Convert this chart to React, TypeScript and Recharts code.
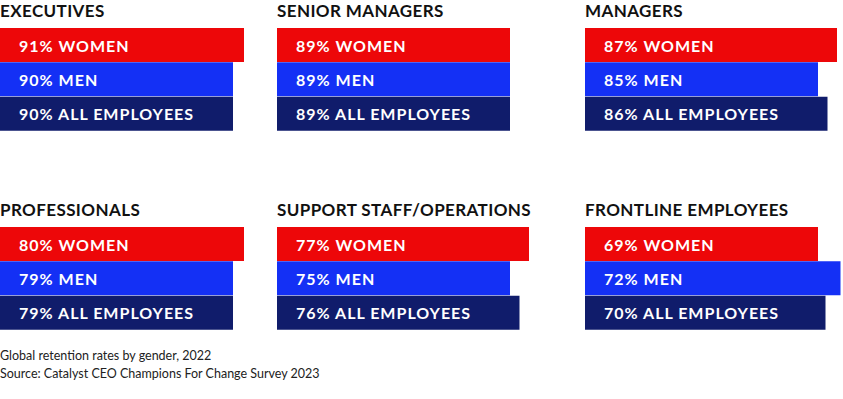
import { BarChart, Bar, XAxis, YAxis, Cell, LabelList } from "recharts";

const PANELS = [
  "EXECUTIVES",
  "SENIOR MANAGERS",
  "MANAGERS",
  "PROFESSIONALS",
  "SUPPORT STAFF/OPERATIONS",
  "FRONTLINE EMPLOYEES",
];
const GROUPS = ["WOMEN", "MEN", "ALL EMPLOYEES"];
const WOMEN = [91, 89, 87, 80, 77, 69];
const MEN = [90, 89, 85, 79, 75, 72];
const ALL_EMPLOYEES = [90, 89, 86, 79, 76, 70];

const COLORS = ["#ED0709", "#1430F5", "#101C6B"];
const COL_X = [0, 277, 585];
const ROW_Y = [28, 227];
const CHART_W = 266;
const CHART_H = 103;
// px per percentage point in each panel (the original is not on a shared scale)
const PX_PER_PCT = [11, 10, 9.5, 11, 9.5, 7.5];
const BASE_W = 233;

const FONT = "Lato, 'Open Sans', sans-serif";

function Panel({ index }: { index: number }) {
  const data = [
    { group: GROUPS[0], value: WOMEN[index] },
    { group: GROUPS[1], value: MEN[index] },
    { group: GROUPS[2], value: ALL_EMPLOYEES[index] },
  ];
  const k = PX_PER_PCT[index];
  const min = Math.min(...data.map((d) => d.value));
  const lo = min - BASE_W / k;
  const hi = lo + CHART_W / k;
  const left = COL_X[index % 3];
  const top = ROW_Y[Math.floor(index / 3)];

  return (
    <>
      <div
        style={{
          position: "absolute",
          left,
          top: top - 26,
          fontFamily: FONT,
          fontWeight: 700,
          fontSize: 17,
          lineHeight: "17px",
          letterSpacing: 0.4,
          color: "#111",
          whiteSpace: "nowrap",
        }}
      >
        {PANELS[index]}
      </div>
      <div style={{ position: "absolute", left, top }}>
        <BarChart
          width={CHART_W}
          height={CHART_H}
          data={data}
          layout="vertical"
          margin={{ top: 0, right: 0, left: 0, bottom: 0 }}
          barCategoryGap={0}
        >
          <XAxis type="number" hide domain={[lo, hi]} allowDataOverflow />
          <YAxis type="category" dataKey="group" hide />
          <Bar dataKey="value" isAnimationActive={false}>
            {data.map((d, i) => (
              <Cell key={d.group} fill={COLORS[i]} />
            ))}
            <LabelList
              dataKey="value"
              content={(p: any) => (
                <text
                  x={p.x + 19}
                  y={p.y + p.height / 2}
                  dominantBaseline="central"
                  fill="#fff"
                  fontFamily={FONT}
                  fontWeight={700}
                  fontSize={16}
                  letterSpacing={1}
                >
                  {`${p.value}% ${GROUPS[p.index]}`}
                </text>
              )}
            />
          </Bar>
        </BarChart>
      </div>
    </>
  );
}

export default function App() {
  return (
    <div
      style={{
        position: "fixed",
        left: 0,
        top: 0,
        width: 843,
        height: 399,
        overflow: "hidden",
        background: "#fff",
      }}
    >
      {PANELS.map((_, i) => (
        <Panel key={i} index={i} />
      ))}
      <div
        style={{
          position: "absolute",
          left: 0,
          top: 347,
          fontFamily: FONT,
          fontSize: 12.5,
          lineHeight: "18px",
          color: "#222",
        }}
      >
        <div>Global retention rates by gender, 2022</div>
        <div>Source: Catalyst CEO Champions For Change Survey 2023</div>
      </div>
    </div>
  );
}
